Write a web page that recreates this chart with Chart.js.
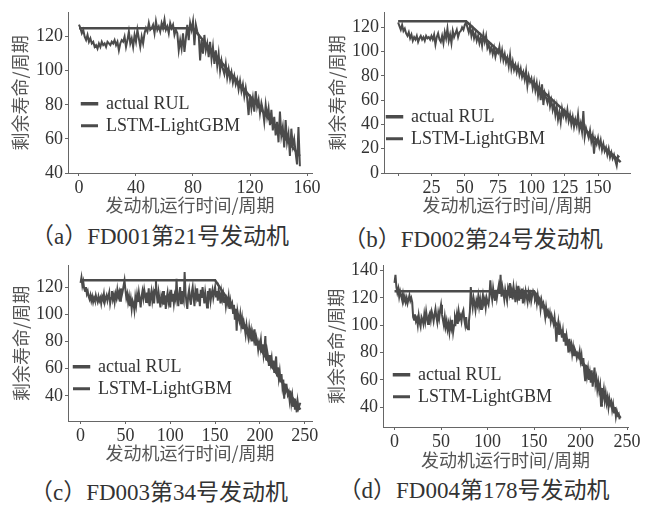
<!DOCTYPE html>
<html>
<head>
<meta charset="utf-8">
<script src="https://cdn.jsdelivr.net/npm/chart.js@4.4.1/dist/chart.umd.min.js"></script>
<style>
  body { margin: 0; background: #fff; width: 651px; height: 506px; position: relative; overflow: hidden; }
  canvas { position: absolute; }
  .cap { position: absolute; width: 320px; text-align: center; white-space: nowrap;
         font-family: "Liberation Serif", "Noto Sans CJK SC", serif; font-size: 23px; line-height: 26px; color: #333; }
</style>
</head>
<body>
<canvas id="ca" width="325" height="218" style="left:0;top:0"></canvas>
<canvas id="cb" width="326" height="218" style="left:325px;top:0"></canvas>
<canvas id="cc" width="325" height="213" style="left:0;top:253px"></canvas>
<canvas id="cd" width="326" height="220" style="left:325px;top:253px"></canvas>
<div class="cap" style="left:0;top:224px">（a）FD001第21号发动机</div>
<div class="cap" style="left:313px;top:227px">（b）FD002第24号发动机</div>
<div class="cap" style="left:-1px;top:480px">（c）FD003第34号发动机</div>
<div class="cap" style="left:314px;top:478px">（d）FD004第178号发动机</div>
<script>
const seriesNames = ['actual RUL', 'LSTM-LightGBM'];
const xTitle = '发动机运行时间/周期';
const yTitle = '剩余寿命/周期';

// (a) FD001 engine 21
const aActualX = [0, 80, 155];
const aActualY = [125, 125, 50];
const aPred = [127, 125, 122, 124, 120, 118, 121, 117, 119, 116, 117, 114,
  115, 113, 116, 114, 117, 115, 116, 114, 117, 116, 115, 117, 116, 118, 115, 117, 112, 116, 118,
  117, 120, 114, 118, 123, 116, 119, 114, 121, 117, 124, 119, 114, 120, 116, 122, 125, 123, 128, 124,
  125, 127, 122, 129, 124, 126, 123, 128, 125, 130, 124, 126, 122, 128, 125, 127, 121, 124, 122,
  112, 118, 113, 122, 111, 119, 127, 118, 128, 124, 129, 115, 127, 123, 121,
  106, 118, 110, 121, 112, 116, 108, 117, 107, 114, 104, 112, 103, 110, 100, 106,
  101, 98, 104, 96, 101, 95, 99, 93, 97, 92, 95, 89, 94, 88, 92, 85, 90, 84,
  74, 86, 78, 84, 76, 88, 79, 83, 75, 81, 77, 70, 80, 73, 78, 68, 77,
  65, 73, 62, 70, 58, 76, 62, 67, 55, 71, 58, 63, 50, 66, 56, 60, 52, 45, 67, 44];

// (b) FD002 engine 24
const bActualX = [0, 51, 167];
const bActualY = [125, 125, 9];
const bPred = [124, 121, 118, 122, 117, 119,
  115, 113, 116, 111, 114, 109, 112, 110, 113, 108, 111, 113, 110, 112, 109, 113, 111, 112, 110,
  113, 110, 114, 106, 112, 115, 110, 108, 113, 107, 116, 111, 119, 109, 114, 107, 117, 112, 115, 118, 112, 116,
  117, 120, 118, 122, 124,
  120, 116, 121, 113, 118, 111, 115, 109, 113, 107, 112, 105, 114, 108, 113, 103, 106, 100, 104, 98, 103, 96, 101, 99, 104, 95,
  101, 93, 98, 91, 95, 88, 97, 86, 92, 85, 89, 83, 88, 81, 86, 79, 83, 77, 84, 72, 80, 75, 78,
  70, 76, 68, 74, 64, 71, 60, 73, 56, 66, 62, 58, 64, 55, 60, 52, 57, 48, 55, 44, 50, 42, 53, 47, 51,
  45, 52, 43, 48, 40, 46, 38, 44, 39, 48, 36, 41, 34, 51, 30, 37, 33, 29, 35, 26, 31, 16, 28, 24, 29,
  22, 27, 19, 24, 18, 21, 15, 20, 13, 17, 12, 15, 10, 6, 14, 13];

// (c) FD003 engine 34
const cActualX = [0, 150, 245];
const cActualY = [125, 125, 30];
const cPred = [123, 127, 121, 124, 119, 117, 120, 115, 117, 113,
  111, 114, 110, 113, 109, 112, 110, 114, 111, 109, 113, 110, 112, 108, 113, 111, 115, 109, 112, 114,
  110, 113, 116, 108, 112, 117, 111, 114, 109, 115, 112, 118, 113, 116, 110, 119, 114, 117, 121, 125,
  118, 112, 115, 109, 113, 106, 111, 104, 110, 108, 103, 112, 107, 114, 109, 116, 111, 105, 113, 117,
  112, 118, 114, 109, 116, 112, 119, 106, 113, 117, 110, 115, 108, 118, 125, 114, 108, 116, 111, 105,
  113, 110, 117, 107, 114, 104, 112, 116, 109, 113, 105, 118, 110, 115, 108, 114, 111, 126, 112, 106,
  115, 120, 108, 117, 113, 110, 131, 116, 109, 104, 114, 118, 111, 107, 116, 120, 112, 106, 117, 113,
  119, 110, 115, 106, 118, 112, 120, 114, 108, 116, 111, 105, 117, 113, 119, 110, 115, 118, 112, 116,
  120, 113, 117, 110, 118, 114, 108, 116, 111, 115, 109, 113, 106, 111, 108, 113, 104, 110, 106, 108,
  101, 107, 96, 104, 88, 102, 98, 95, 100, 92, 97, 89, 94, 90, 85, 92, 87, 83, 90, 84,
  88, 80, 86, 82, 89, 77, 83, 80, 74, 79, 76, 81, 72, 78, 70, 75, 84, 66, 73, 69,
  62, 70, 64, 68, 60, 66, 57, 63, 69, 55, 61, 53, 58, 50, 56, 47, 52, 38, 49, 44,
  46, 41, 43, 37, 44, 35, 40, 32, 38, 30, 34, 28, 36, 31, 33, 35];

// (d) FD004 engine 178
const dActualX = [0, 150, 243];
const dActualY = [125, 125, 32];
const dPred = [131, 137, 128, 124, 127, 121, 125, 122, 119, 123,
  118, 121, 117, 120, 116, 119, 122, 118, 120, 117,
  106, 104, 108, 103, 105, 100, 107, 102, 99, 106, 104, 101, 108, 103, 110, 105, 101, 107, 109, 104,
  110, 107, 103, 108, 112, 106, 102, 109, 105, 111, 115, 108, 104, 100, 106, 99, 103, 97, 101, 95,
  102, 98, 104, 95, 100, 106, 103, 108, 101, 110, 105, 107, 103, 109, 111, 104, 100, 106, 98, 97,
  103, 110, 128, 118, 113, 120, 116, 111, 118, 115, 121, 114, 119, 112, 117, 122, 116, 119, 113, 120,
  117, 115, 121, 133, 124, 119, 127, 122, 118, 126, 120, 125, 129, 123, 137, 121, 128, 124, 119, 126,
  122, 118, 127, 124, 131, 120, 125, 119, 128, 123, 117, 126, 121, 129, 118, 124, 120, 127, 116, 123,
  119, 125, 121, 117, 124, 120, 126, 118, 122, 125, 123, 119, 121, 116, 122, 117, 119, 112, 118, 114,
  116, 111, 106, 113, 108, 110, 105, 109, 103, 107, 104, 101, 106, 99, 88, 97, 102, 93, 99, 95,
  91, 96, 88, 94, 85, 92, 87, 80, 90, 83, 86, 79, 84, 78, 82, 80, 76, 79, 77, 81,
  74, 78, 70, 76, 66, 59, 71, 63, 68, 60, 65, 58, 67, 55, 62, 69, 57, 61, 53, 58,
  52, 56, 41, 54, 48, 53, 45, 50, 43, 47, 40, 46, 42, 44, 38, 42, 36, 40, 33, 37, 34, 35, 31];

Chart.defaults.font.family = "'Liberation Serif', 'Noto Sans CJK SC', serif";
Chart.defaults.color = '#333';

const lineColor = '#4b4b4b';
const axisColor = '#666';

// canvas-relative plot boxes [left, top, right, bottom], y-title offsets, legend offsets
const panels = [
  { id: 'ca', ax: aActualX, ay: aActualY, pred: aPred, xMin: -7.7, xMax: 163.5, xStep: 40,
    yMin: 40, yMax: 134, area: [68, 12, 312, 173], padL: 5, yTitlePad: 4, leg: [14, 82] },
  { id: 'cb', ax: bActualX, ay: bActualY, pred: bPred, xMin: -10.6, xMax: 174, xStep: 25,
    yMin: 0, yMax: 132, area: [59, 10, 305, 173], padL: 0, yTitlePad: 1, leg: [3, 95], hideX0: true },
  { id: 'cc', ax: cActualX, ay: cActualY, pred: cPred, xMin: -14, xMax: 258, xStep: 50,
    yMin: 21.6, yMax: 135.6, area: [68, 7, 312, 168], padL: 6, yTitlePad: 4, leg: [6, 92] },
  { id: 'cd', ax: dActualX, ay: dActualY, pred: dPred, xMin: -12.4, xMax: 251, xStep: 50,
    yMin: 25.4, yMax: 143.6, area: [58, 12, 303, 174], padL: 0, yTitlePad: 0, leg: [11, 100] }
];

function makeChart(p) {
  const canvas = document.getElementById(p.id);
  const W = canvas.width, H = canvas.height;
  const [aL, aT, aR, aB] = p.area;

  const legendPlace = {
    id: 'legendPlace',
    afterLayout(chart) {
      const lg = chart.legend, ca = chart.chartArea, pad = 4;
      lg.left = ca.left + p.leg[0] - pad;
      lg.top = ca.top + p.leg[1] - pad;
      lg.bottom = H;
    }
  };

  new Chart(canvas, {
    type: 'line',
    data: {
      datasets: [
        {
          label: seriesNames[0],
          data: p.ax.map((x, i) => ({ x: x, y: p.ay[i] })),
          borderColor: lineColor, backgroundColor: lineColor,
          borderWidth: 2.5, pointRadius: 0, tension: 0
        },
        {
          label: seriesNames[1],
          data: p.pred.map((v, i) => ({ x: i, y: v })),
          borderColor: lineColor, backgroundColor: lineColor,
          borderWidth: 2, pointRadius: 0, tension: 0
        }
      ]
    },
    options: {
      responsive: false,
      animation: false,
      layout: { padding: { left: p.padL, top: aT, right: W - aR, bottom: 0 } },
      plugins: {
        legend: {
          position: 'chartArea',
          align: 'start',
          labels: { boxWidth: 15, boxHeight: 1, padding: 4, color: '#333',
                    font: { size: 18 } }
        },
        tooltip: { enabled: false }
      },
      scales: {
        x: {
          type: 'linear',
          min: p.xMin, max: p.xMax,
          grid: { display: true, drawOnChartArea: false, drawTicks: true, tickLength: 3, color: axisColor },
          border: { color: axisColor, width: 1 },
          ticks: {
            stepSize: p.xStep, includeBounds: false, padding: 1, color: '#333',
            maxRotation: 0, font: { size: 18 },
            callback: v => (p.hideX0 && v === 0) ? '' : v
          },
          title: { display: true, text: xTitle, color: '#555', padding: { top: 0, bottom: 2 },
                   font: { family: "'Noto Sans CJK SC', sans-serif", size: 18 } },
          afterFit: s => { s.height = H - aB; }
        },
        y: {
          min: p.yMin, max: p.yMax,
          grid: { display: true, drawOnChartArea: false, drawTicks: true, tickLength: 3, color: axisColor },
          border: { color: axisColor, width: 1 },
          ticks: { stepSize: 20, includeBounds: false, padding: 2, color: '#333', font: { size: 18 } },
          title: { display: true, text: yTitle, color: '#555', padding: { top: p.yTitlePad, bottom: 0 },
                   font: { family: "'Noto Sans CJK SC', sans-serif", size: 18 } },
          afterFit: s => { s.width = aL - p.padL; }
        }
      }
    },
    plugins: [legendPlace]
  });
}

panels.forEach(makeChart);
</script>
</body>
</html>
